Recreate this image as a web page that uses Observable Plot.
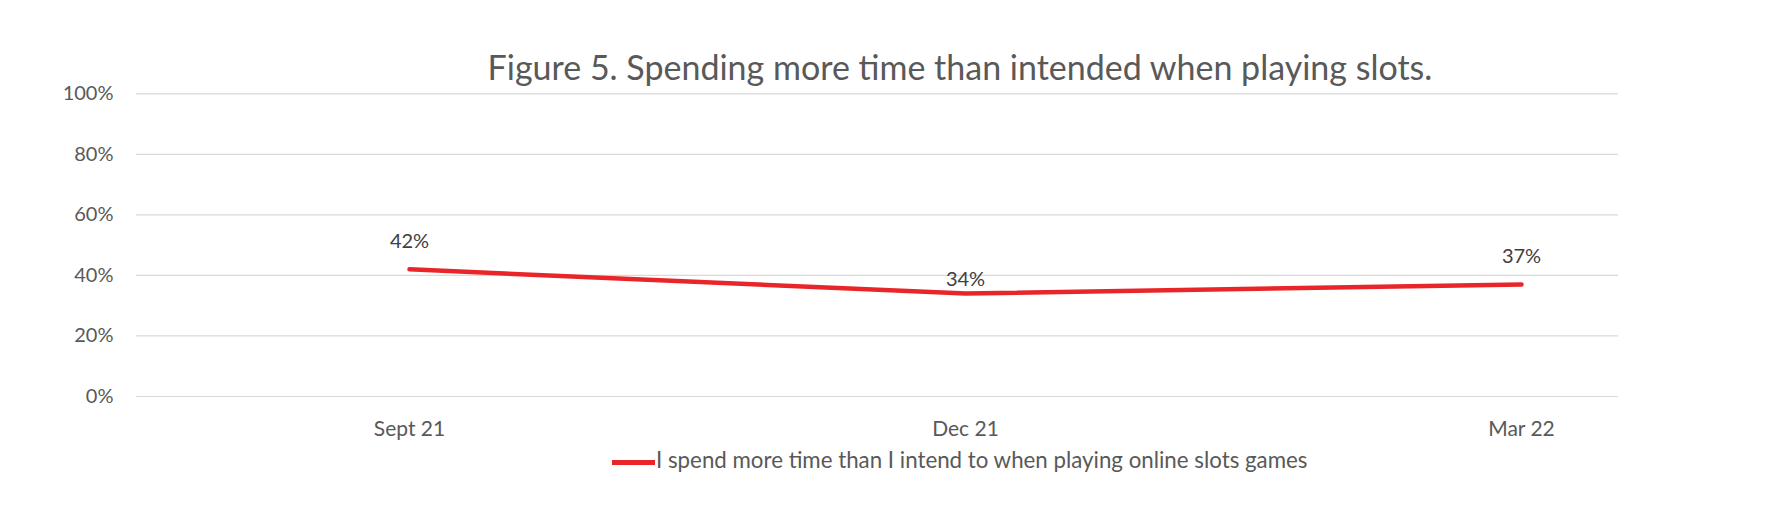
<!DOCTYPE html>
<html>
<head>
<meta charset="utf-8">
<script src="https://cdn.jsdelivr.net/npm/d3@7"></script>
<script src="https://cdn.jsdelivr.net/npm/@observablehq/plot@0.6"></script>
<style>
  html, body { margin: 0; padding: 0; background: #ffffff; }
  body { width: 1772px; height: 528px; overflow: hidden; font-family: Lato, "Open Sans", sans-serif; }
  #title { height: 34px; padding-top: 50px; line-height: 34px; font-size: 34px; color: #595959; text-align: center; padding-left: 148px; white-space: nowrap; }
  #chart svg { display: block; overflow: visible; }
  #legend { height: 32px; line-height: 32px; font-size: 22.3px; color: #595959; padding-left: 612px; white-space: nowrap; }
  #legend .swatch { display: inline-block; width: 43px; height: 4.5px; background: #e8262a; vertical-align: middle; margin-right: 1px; }
</style>
</head>
<body>
<div id="title">Figure 5. Spending more time than intended when playing slots.</div>
<div id="chart"></div>
<div id="legend"><span class="swatch"></span><span id="legend-label"></span></div>
<script>
const categories = ["Sept 21", "Dec 21", "Mar 22"];
const values = [0.42, 0.34, 0.37];
const yTicks = [0, 0.2, 0.4, 0.6, 0.8, 1.0];
const seriesName = "I spend more time than I intend to when playing online slots games";

document.getElementById("legend-label").textContent = seriesName;

const data = categories.map((c, i) => ({period: c, value: values[i]}));
const pct = d3.format(".0%");

const chart = Plot.plot({
  width: 1772,
  height: 360,
  marginLeft: 136,
  marginRight: 154,
  marginTop: 9.3,
  marginBottom: 48,
  style: {fontFamily: "Lato, 'Open Sans', sans-serif", fontSize: "20px", color: "#595959", background: "transparent", overflow: "visible"},
  x: {type: "point", domain: categories, range: [409, 1521], padding: 0, label: null},
  y: {domain: [0, 1], label: null},
  marks: [
    Plot.ruleY(yTicks, {stroke: "#d9d9d9", strokeWidth: 1.2}),
    Plot.axisY({ticks: yTicks, tickFormat: pct, tickSize: 0, tickPadding: 23, fontSize: 20, fill: "#595959", label: null}),
    Plot.axisX({tickSize: 0, tickPadding: 24.5, fontSize: 21, fill: "#595959", label: null}),
    Plot.line(data, {x: "period", y: "value", stroke: "#e8262a", strokeWidth: 4.5, strokeLinecap: "round", strokeLinejoin: "round"}),
    Plot.text(data, {filter: (d, i) => i !== 1, x: "period", y: "value", text: d => pct(d.value), dy: -28, fontSize: 20, fill: "#404040", lineAnchor: "middle"}),
    Plot.text(data, {filter: (d, i) => i === 1, x: "period", y: "value", text: d => pct(d.value), dy: -14, fontSize: 20, fill: "#404040", lineAnchor: "middle"})
  ]
});
document.getElementById("chart").appendChild(chart);
</script>
</body>
</html>
